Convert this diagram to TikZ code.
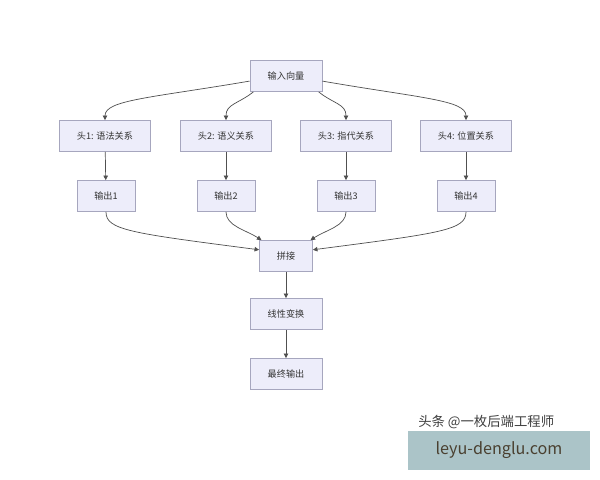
\documentclass[tikz,border=0pt]{standalone}
\usepackage{fontspec}
\setmainfont{Noto Sans CJK SC}
\usepackage{xcolor}
\usetikzlibrary{arrows.meta}
\definecolor{boxfill}{HTML}{EDEDFA}
\definecolor{boxline}{HTML}{A6A6BE}
\definecolor{edgecol}{HTML}{505050}
\definecolor{markbg}{HTML}{ABC4C8}
\definecolor{marktext}{HTML}{4A4030}

\begin{document}
\begin{tikzpicture}[x=0.025cm, y=-0.025cm,
        every node/.style={font=\fontsize{6.5}{8}\selectfont, text=black!80},
        block/.style={rectangle, draw=boxline, fill=boxfill, line width=0.6pt, minimum height=0.775cm, inner sep=0pt},
        arr/.style={-{Triangle[length=3.2pt, width=3.2pt]}, draw=edgecol, line width=0.5pt}
    ]
    \useasboundingbox (0,0) rectangle (600,480);
    \fill[white] (0,0) rectangle (600,480);
%
    % Input
    \node[block, minimum width=1.8cm] (inp) at (286,76) {输入向量};
%
    % Heads
    \node[block, minimum width=2.275cm] (h1) at (105,136) {头1: 语法关系};
    \node[block, minimum width=2.275cm] (h2) at (226,136) {头2: 语义关系};
    \node[block, minimum width=2.275cm] (h3) at (346,136) {头3: 指代关系};
    \node[block, minimum width=2.275cm] (h4) at (466,136) {头4: 位置关系};
%
    % Outputs
    \node[block, minimum width=1.45cm] (o1) at (106,196) {输出1};
    \node[block, minimum width=1.45cm] (o2) at (226,196) {输出2};
    \node[block, minimum width=1.45cm] (o3) at (346,196) {输出3};
    \node[block, minimum width=1.45cm] (o4) at (466,196) {输出4};
%
    % Merge
    \node[block, minimum width=1.325cm] (cat) at (286,256) {拼接};
    \node[block, minimum width=1.8cm] (lin) at (286,314) {线性变换};
    \node[block, minimum width=1.8cm] (fin) at (286,374) {最终输出};
%
    % Input to heads
    \draw[arr] (inp.188) .. controls (150,98) and (105,100) .. (h1.north);
    \draw[arr] (inp.206) .. controls (238,104) and (226,104) .. (h2.north);
    \draw[arr] (inp.334) .. controls (334,104) and (346,104) .. (h3.north);
    \draw[arr] (inp.352) .. controls (420,98) and (466,100) .. (h4.north);
%
    % Heads to outputs
    \foreach \i in {1,...,4}
        \draw[arr] (h\i) -- (o\i);
%
    % Outputs to merge
    \draw[arr] (o1.south) .. controls (106,230) and (130,233) .. (cat.167);
    \draw[arr] (o2.south) .. controls (226,226) and (246,230) .. (cat.147);
    \draw[arr] (o3.south) .. controls (346,226) and (326,230) .. (cat.33);
    \draw[arr] (o4.south) .. controls (466,230) and (442,233) .. (cat.13);
%
    \draw[arr] (cat) -- (lin);
    \draw[arr] (lin) -- (fin);
%
    % Watermark
    \node[anchor=base west, font=\fontsize{9.5}{11}\selectfont, text=black!75, inner sep=0pt] (credit) at (418,426) {头条 @一枚后端工程师};
    \node[rectangle, fill=markbg, minimum width=4.55cm, minimum height=0.975cm, inner sep=0pt, text=marktext, font=\fontsize{11.5}{14}\selectfont] (site) at (499,450.5) {leyu-denglu.com};
%
\end{tikzpicture}
\end{document}
